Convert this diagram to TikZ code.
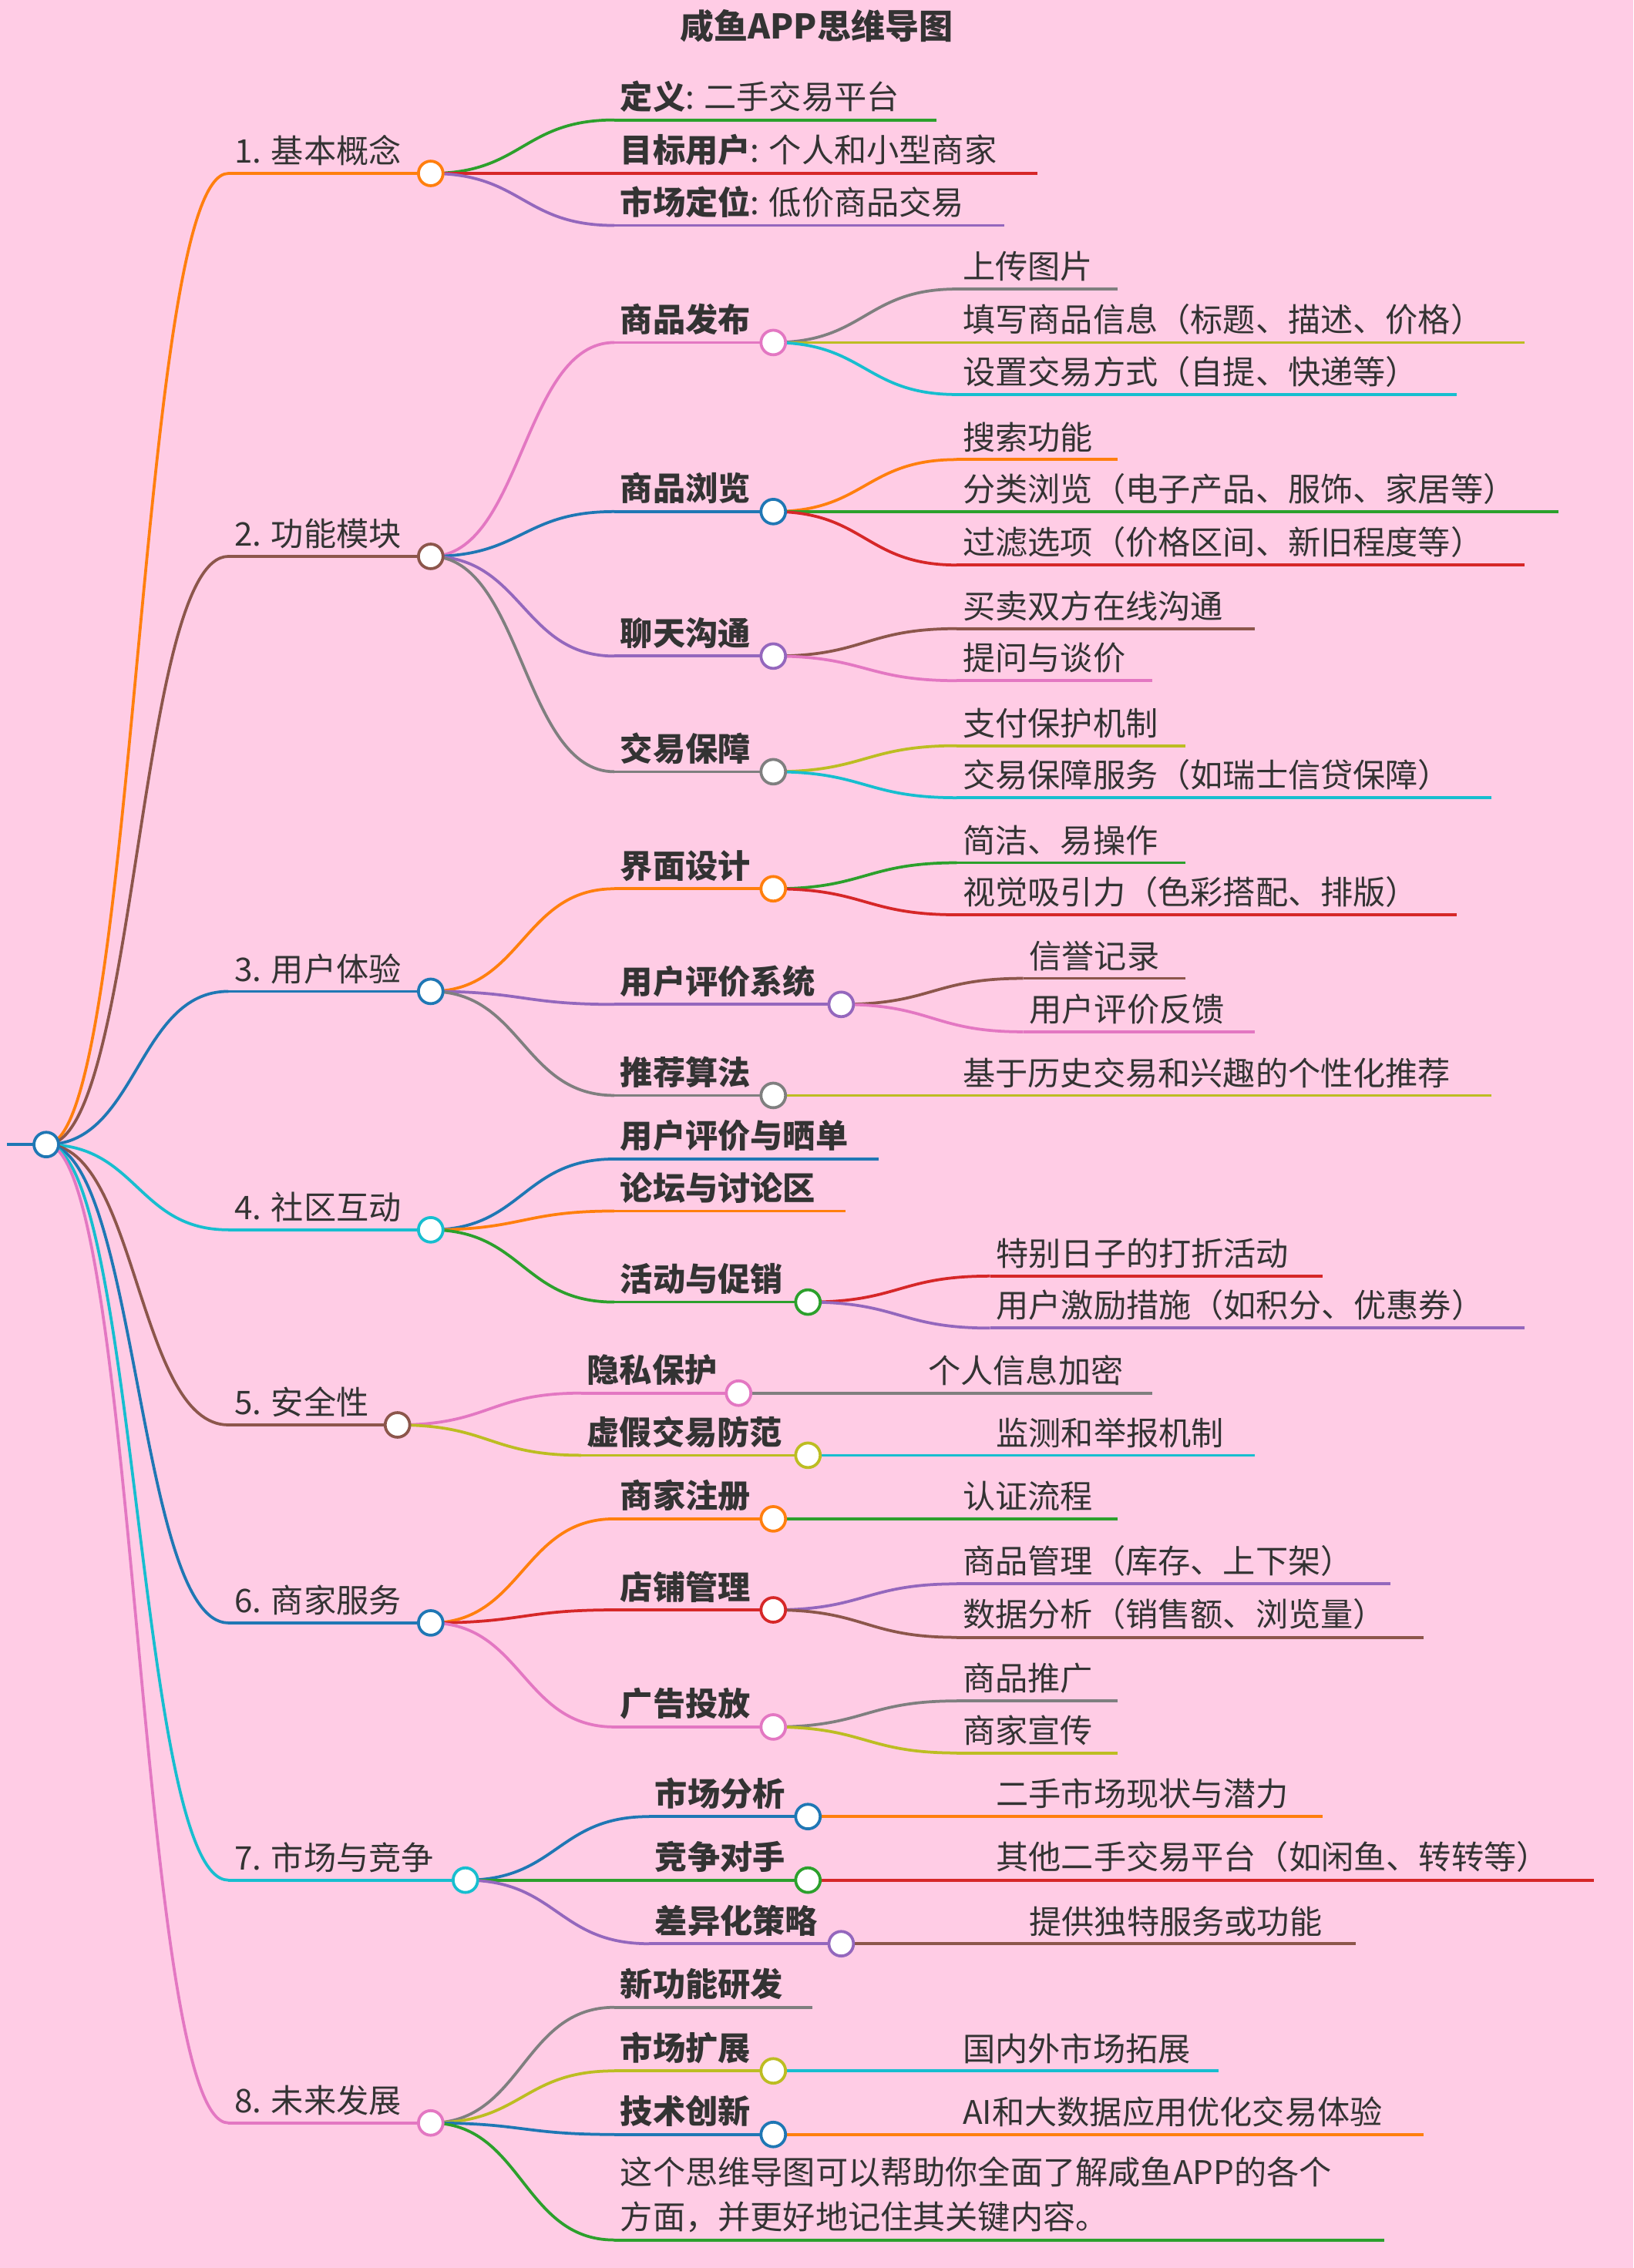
\documentclass[tikz,border=0pt]{standalone}
\usepackage{fontspec}
\setmainfont{Noto Sans CJK SC}
\usetikzlibrary{calc}
\definecolor{bg}{HTML}{FFCCE5}
\definecolor{mo}{HTML}{FF7F0E}\definecolor{mbr}{HTML}{8C564B}\definecolor{mb}{HTML}{1F77B4}
\definecolor{mc}{HTML}{17BECF}\definecolor{mp}{HTML}{E377C2}\definecolor{mg}{HTML}{2CA02C}
\definecolor{mr}{HTML}{D62728}\definecolor{mpu}{HTML}{9467BD}\definecolor{mgr}{HTML}{7F7F7F}
\definecolor{mol}{HTML}{BCBD22}\definecolor{tx}{HTML}{333333}
\tikzset{ln/.style={line width=2pt},
 txt/.style={font=\fontsize{22.5}{31}\selectfont,text=tx,inner sep=0pt,anchor=south west},
 dotn/.style={circle,fill=white,line width=2pt,minimum size=17pt,inner sep=0pt}}
\newcommand\ML[6]{\coordinate (#1s) at (#2,#4);\coordinate (#1e) at (#3,#4);
 \draw[#5,ln] (#1s)--(#1e);\node[txt] (#1) at ($(#2,#4)+(4,-5)$) {#6};}
\newcommand\MK[3]{\draw[#3,ln] let \p1=(#1e),\p2=(#2s) in (\p1) .. controls ({(\x1+\x2)/2},\y1) and ({(\x1+\x2)/2},\y2) .. (\p2);}
\newcommand\MD[2]{\node[dotn,draw=#2] (#1c) at (#1e) {};}
\begin{document}
\begin{tikzpicture}[x=1pt,y=-1pt]
\useasboundingbox[fill=bg] (0,0) rectangle (1130,1569.4);
\node[font=\fontsize{23.5}{26}\selectfont\bfseries,text=tx] (title) at (565,18) {咸鱼APP思维导图};
\ML{r}{5}{32}{792}{mb}{}
% level 1
\ML{a}{158}{298}{120}{mo}{1. 基本概念}
\ML{b}{158}{298}{385}{mbr}{2. 功能模块}
\ML{c}{158}{298}{686}{mb}{3. 用户体验}
\ML{d}{158}{298}{851}{mc}{4. 社区互动}
\ML{e}{158}{275}{986}{mbr}{5. 安全性}
\ML{f}{158}{298}{1123}{mb}{6. 商家服务}
\ML{g}{158}{322}{1301}{mc}{7. 市场与竞争}
\ML{h}{158}{298}{1469}{mp}{8. 未来发展}
\MK{r}{a}{mo}\MK{r}{b}{mbr}\MK{r}{c}{mb}\MK{r}{d}{mc}\MK{r}{e}{mbr}\MK{r}{f}{mb}\MK{r}{g}{mc}\MK{r}{h}{mp}
% 1
\ML{a1}{425}{648}{83}{mg}{\textbf{定义}: 二手交易平台}
\ML{a2}{425}{718}{120}{mr}{\textbf{目标用户}: 个人和小型商家}
\ML{a3}{425}{695}{156}{mpu}{\textbf{市场定位}: 低价商品交易}
\MK{a}{a1}{mg}\MK{a}{a2}{mr}\MK{a}{a3}{mpu}
% 2
\ML{b1}{425}{535}{237}{mp}{\textbf{商品发布}}
\ML{b2}{425}{535}{354}{mb}{\textbf{商品浏览}}
\ML{b3}{425}{535}{454}{mpu}{\textbf{聊天沟通}}
\ML{b4}{425}{535}{534}{mgr}{\textbf{交易保障}}
\MK{b}{b1}{mp}\MK{b}{b2}{mb}\MK{b}{b3}{mpu}\MK{b}{b4}{mgr}
\ML{b11}{662}{773}{200}{mgr}{上传图片}
\ML{b12}{662}{1055}{237}{mol}{填写商品信息（标题、描述、价格）}
\ML{b13}{662}{1008}{273}{mc}{设置交易方式（自提、快递等）}
\MK{b1}{b11}{mgr}\MK{b1}{b12}{mol}\MK{b1}{b13}{mc}
\ML{b21}{662}{773}{318}{mo}{搜索功能}
\ML{b22}{662}{1078}{354}{mg}{分类浏览（电子产品、服饰、家居等）}
\ML{b23}{662}{1055}{391}{mr}{过滤选项（价格区间、新旧程度等）}
\MK{b2}{b21}{mo}\MK{b2}{b22}{mg}\MK{b2}{b23}{mr}
\ML{b31}{662}{868}{435}{mbr}{买卖双方在线沟通}
\ML{b32}{662}{797}{471}{mp}{提问与谈价}
\MK{b3}{b31}{mbr}\MK{b3}{b32}{mp}
\ML{b41}{662}{820}{516}{mol}{支付保护机制}
\ML{b42}{662}{1032}{552}{mc}{交易保障服务（如瑞士信贷保障）}
\MK{b4}{b41}{mol}\MK{b4}{b42}{mc}
% 3
\ML{c1}{425}{535}{615}{mo}{\textbf{界面设计}}
\ML{c2}{425}{582}{695}{mpu}{\textbf{用户评价系统}}
\ML{c3}{425}{535}{758}{mgr}{\textbf{推荐算法}}
\MK{c}{c1}{mo}\MK{c}{c2}{mpu}\MK{c}{c3}{mgr}
\ML{c11}{662}{820}{597}{mg}{简洁、易操作}
\ML{c12}{662}{1008}{633}{mr}{视觉吸引力（色彩搭配、排版）}
\MK{c1}{c11}{mg}\MK{c1}{c12}{mr}
\ML{c21}{708}{820}{677}{mbr}{信誉记录}
\ML{c22}{708}{868}{714}{mp}{用户评价反馈}
\MK{c2}{c21}{mbr}\MK{c2}{c22}{mp}
\ML{c31}{662}{1032}{758}{mol}{基于历史交易和兴趣的个性化推荐}
\MK{c3}{c31}{mol}
% 4
\ML{d1}{425}{608}{802}{mb}{\textbf{用户评价与晒单}}
\ML{d2}{425}{585}{838}{mo}{\textbf{论坛与讨论区}}
\ML{d3}{425}{559}{901}{mg}{\textbf{活动与促销}}
\MK{d}{d1}{mb}\MK{d}{d2}{mo}\MK{d}{d3}{mg}
\ML{d31}{685}{915}{883}{mr}{特别日子的打折活动}
\ML{d32}{685}{1055}{919}{mpu}{用户激励措施（如积分、优惠券）}
\MK{d3}{d31}{mr}\MK{d3}{d32}{mpu}
% 5
\ML{e1}{402}{511}{964}{mp}{\textbf{隐私保护}}
\ML{e2}{402}{559}{1007}{mol}{\textbf{虚假交易防范}}
\MK{e}{e1}{mp}\MK{e}{e2}{mol}
\ML{e11}{638}{797}{964}{mgr}{个人信息加密}
\ML{e21}{685}{868}{1007}{mc}{监测和举报机制}
\MK{e1}{e11}{mgr}\MK{e2}{e21}{mc}
% 6
\ML{f1}{425}{535}{1051}{mo}{\textbf{商家注册}}
\ML{f2}{425}{535}{1114}{mr}{\textbf{店铺管理}}
\ML{f3}{425}{535}{1195}{mp}{\textbf{广告投放}}
\MK{f}{f1}{mo}\MK{f}{f2}{mr}\MK{f}{f3}{mp}
\ML{f11}{662}{773}{1051}{mg}{认证流程}
\MK{f1}{f11}{mg}
\ML{f21}{662}{962}{1096}{mpu}{商品管理（库存、上下架）}
\ML{f22}{662}{985}{1133}{mbr}{数据分析（销售额、浏览量）}
\MK{f2}{f21}{mpu}\MK{f2}{f22}{mbr}
\ML{f31}{662}{773}{1177}{mgr}{商品推广}
\ML{f32}{662}{773}{1213}{mol}{商家宣传}
\MK{f3}{f31}{mgr}\MK{f3}{f32}{mol}
% 7
\ML{g1}{449}{559}{1257}{mb}{\textbf{市场分析}}
\ML{g2}{449}{559}{1301}{mg}{\textbf{竞争对手}}
\ML{g3}{449}{582}{1345}{mpu}{\textbf{差异化策略}}
\MK{g}{g1}{mb}\MK{g}{g2}{mg}\MK{g}{g3}{mpu}
\ML{g11}{685}{915}{1257}{mo}{二手市场现状与潜力}
\ML{g21}{685}{1103}{1301}{mr}{其他二手交易平台（如闲鱼、转转等）}
\ML{g31}{708}{938}{1345}{mbr}{提供独特服务或功能}
\MK{g1}{g11}{mo}\MK{g2}{g21}{mr}\MK{g3}{g31}{mbr}
% 8
\ML{h1}{425}{562}{1389}{mgr}{\textbf{新功能研发}}
\ML{h2}{425}{535}{1433}{mol}{\textbf{市场扩展}}
\ML{h3}{425}{535}{1477}{mb}{\textbf{技术创新}}
\coordinate (h4s) at (425,1550);\coordinate (h4e) at (958,1550);
\draw[mg,ln] (h4s)--(h4e);
\node[txt,align=left] (h4) at (429,1545) {这个思维导图可以帮助你全面了解咸鱼APP的各个\\方面，并更好地记住其关键内容。};
\MK{h}{h1}{mgr}\MK{h}{h2}{mol}\MK{h}{h3}{mb}\MK{h}{h4}{mg}
\ML{h21}{662}{843}{1433}{mc}{国内外市场拓展}
\ML{h31}{662}{985}{1477}{mo}{AI和大数据应用优化交易体验}
\MK{h2}{h21}{mc}\MK{h3}{h31}{mo}
% dots
\MD{r}{mb}
\MD{a}{mo}\MD{b}{mbr}\MD{c}{mb}\MD{d}{mc}\MD{e}{mbr}\MD{f}{mb}\MD{g}{mc}\MD{h}{mp}
\MD{b1}{mp}\MD{b2}{mb}\MD{b3}{mpu}\MD{b4}{mgr}
\MD{c1}{mo}\MD{c2}{mpu}\MD{c3}{mgr}\MD{d3}{mg}
\MD{e1}{mp}\MD{e2}{mol}
\MD{f1}{mo}\MD{f2}{mr}\MD{f3}{mp}
\MD{g1}{mb}\MD{g2}{mg}\MD{g3}{mpu}
\MD{h2}{mol}\MD{h3}{mb}
\end{tikzpicture}
\end{document}
